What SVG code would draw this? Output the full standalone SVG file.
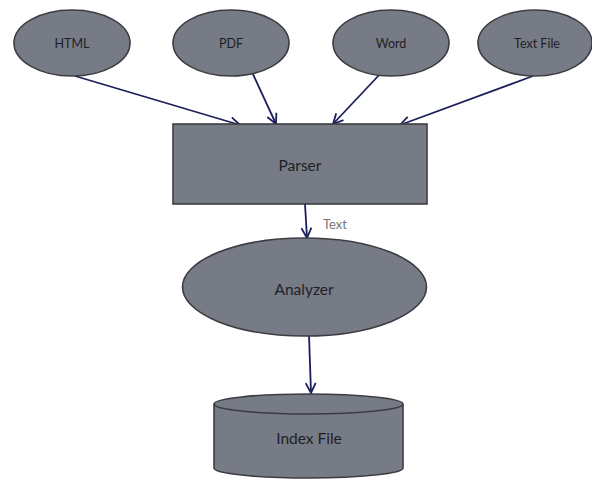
<svg xmlns="http://www.w3.org/2000/svg" width="592" height="480" viewBox="0 0 592 480">
  <style>
    .shape { fill: #777b86; stroke: #3c3d42; stroke-width: 1.6; }
    .lbl { font-family: Lato, "Liberation Sans", sans-serif; fill: #1e1f24; text-anchor: middle; dominant-baseline: central; }
    .sm { font-size: 12.5px; }
    .lg { font-size: 15.5px; }
    .edge { fill: none; stroke: #1b1f5c; stroke-width: 1.8; marker-end: url(#arrow); }
    .edge-lbl { font-family: Lato, "Liberation Sans", sans-serif; font-size: 13px; fill: #777; }
  </style>
  <defs>
    <marker id="arrow" viewBox="0 0 12 12" refX="11" refY="6" markerWidth="12" markerHeight="12" markerUnits="userSpaceOnUse" orient="auto">
      <path d="M1,1 L11,6 L1,11" fill="none" stroke="#1b1f5c" stroke-width="1.8"/>
    </marker>
  </defs>

  <rect width="592" height="480" fill="#ffffff"/>

  <g id="connectors">
    <line class="edge" x1="75" y1="76" x2="240" y2="125"/>
    <line class="edge" x1="252" y1="72" x2="276" y2="124"/>
    <line class="edge" x1="381" y1="73" x2="333" y2="124"/>
    <line class="edge" x1="533" y1="76" x2="400" y2="125"/>
    <line class="edge" x1="305" y1="204" x2="307" y2="238"/>
    <text class="edge-lbl" x="323" y="229">Text</text>
    <line class="edge" x1="309" y1="335" x2="311" y2="393"/>
  </g>

  <g id="html">
    <ellipse class="shape" cx="72" cy="43" rx="58" ry="33"/>
    <text class="lbl sm" x="72" y="43">HTML</text>
  </g>
  <g id="pdf">
    <ellipse class="shape" cx="231" cy="43" rx="58" ry="33"/>
    <text class="lbl sm" x="231" y="43">PDF</text>
  </g>
  <g id="word">
    <ellipse class="shape" cx="391" cy="43" rx="58" ry="33"/>
    <text class="lbl sm" x="391" y="43">Word</text>
  </g>
  <g id="textfile">
    <ellipse class="shape" cx="535" cy="43" rx="57" ry="33"/>
    <text class="lbl sm" x="537" y="43">Text File</text>
  </g>

  <g id="parser">
    <rect class="shape" x="173" y="124" width="254" height="80"/>
    <text class="lbl lg" x="300" y="165">Parser</text>
  </g>

  <g id="analyzer">
    <ellipse class="shape" cx="304.5" cy="287" rx="122" ry="49"/>
    <text class="lbl lg" x="304" y="289">Analyzer</text>
  </g>

  <g id="indexfile">
    <path class="shape" d="M214,404 L214,468 A94.5,10 0 0 0 403,468 L403,404"/>
    <ellipse class="shape" cx="308.5" cy="404" rx="94.5" ry="10"/>
    <text class="lbl lg" x="309" y="438">Index File</text>
  </g>
</svg>
